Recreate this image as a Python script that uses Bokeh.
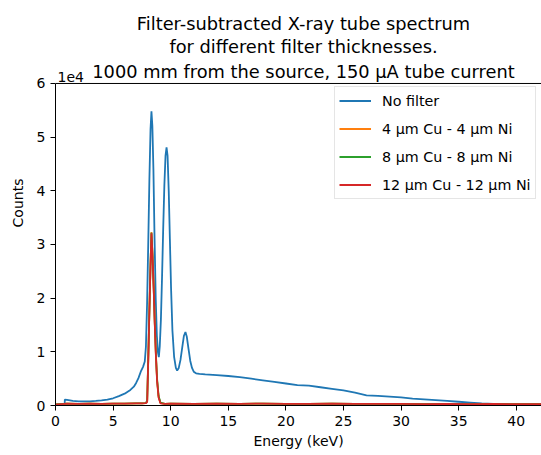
from bokeh.plotting import figure
from bokeh.models import (Range1d, FixedTicker, CustomJSTickFormatter, Label, Span,
                          Legend, LegendItem)
from bokeh.embed import file_html
from bokeh.resources import INLINE

# ---------------- data ----------------
energy_nofilter = [0.0, 0.79, 0.81, 1.0, 1.5, 2.0, 2.5, 3.0, 3.5, 4.0, 4.5, 5.0, 5.5, 6.0,
                   6.5, 6.8, 7.0, 7.2, 7.4, 7.6, 7.75, 7.85, 7.95, 8.05, 8.15, 8.25, 8.33,
                   8.41, 8.5, 8.6, 8.7, 8.8, 8.9, 8.97, 9.05, 9.15, 9.25, 9.35, 9.45, 9.55,
                   9.64, 9.73, 9.83, 9.93, 10.03, 10.15, 10.3, 10.45, 10.56, 10.7, 10.85,
                   11.0, 11.15, 11.28, 11.4, 11.55, 11.7, 11.85, 12.0, 12.2, 12.5, 13.0,
                   14.0, 15.0, 16.0, 17.0, 18.0, 19.0, 20.0, 21.0, 22.0, 23.0, 24.0, 25.0,
                   26.0, 27.0, 28.0, 29.0, 30.0, 31.0, 32.0, 33.0, 34.0, 35.0, 36.0, 37.0,
                   38.0, 39.0, 40.0, 40.5, 44.0]
counts_nofilter = [0, 0, 1100, 1050, 850, 780, 760, 780, 850, 950, 1100, 1350, 1750, 2200,
                   2900, 3500, 4200, 5100, 6300, 7200, 8200, 11000, 19000, 30000, 42000,
                   51500, 54800, 52000, 44000, 31000, 20000, 13000, 9800, 9000, 11000, 16000,
                   24000, 33000, 41000, 46500, 48100, 46500, 40000, 31000, 22000, 14000,
                   9000, 7000, 6500, 7000, 8500, 10800, 13000, 13700, 12800, 10500, 8300,
                   7000, 6300, 6000, 5900, 5800, 5650, 5500, 5300, 5000, 4700, 4400, 4100,
                   3800, 3700, 3400, 3100, 2800, 2400, 1900, 1800, 1650, 1500, 1300, 1150,
                   1000, 850, 700, 550, 400, 280, 150, 50, 0, 0]

energy_filtered = [0.0, 1.0, 2.0, 3.0, 4.0, 5.0, 6.0, 7.0, 7.5, 7.8, 7.9, 7.96, 8.05, 8.15,
                   8.25, 8.33, 8.42, 8.52, 8.62, 8.72, 8.82, 8.95, 9.11, 9.5, 10.0, 12.0,
                   14.0, 16.0, 18.0, 20.0, 22.0, 24.0, 26.0, 28.0, 30.0, 32.0, 34.0, 36.0,
                   38.0, 40.0, 42.0, 44.0]
counts_4um = [200, 350, 300, 350, 300, 350, 350, 400, 400, 450, 550, 800, 8500, 17800,
              26500, 32300, 28200, 22200, 15200, 9200, 4700, 1600, 450, 300, 350, 300,
              350, 300, 350, 300, 300, 350, 300, 300, 300, 250, 300, 250, 300, 250, 250, 250]
counts_8um = [200, 350, 300, 350, 300, 350, 350, 400, 400, 450, 650, 1000, 8600, 17600,
              26300, 32200, 28100, 22300, 15400, 9400, 4900, 1800, 550, 300, 350, 300,
              350, 300, 350, 300, 300, 350, 300, 300, 300, 250, 300, 250, 300, 250, 250, 250]
counts_12um = [150, 350, 300, 350, 300, 350, 350, 400, 400, 450, 500, 700, 8300, 17500,
               26200, 32100, 28000, 22000, 15000, 9000, 4500, 1500, 400, 300, 350, 300,
               350, 300, 350, 300, 300, 350, 300, 300, 300, 250, 300, 250, 300, 250, 250, 250]

labels = ["No filter", "4 μm Cu - 4 μm Ni", "8 μm Cu - 8 μm Ni", "12 μm Cu - 12 μm Ni"]
colors = ["#1f77b4", "#ff7f0e", "#2ca02c", "#d62728"]
x_ticks = [0, 5, 10, 15, 20, 25, 30, 35, 40]
y_ticks = [0, 10000, 20000, 30000, 40000, 50000, 60000]
title_lines = ["Filter-subtracted X-ray tube spectrum",
               "for different filter thicknesses.",
               "1000 mm from the source, 150 μA tube current"]

FONT = "DejaVu Sans"
Y_TOP = 60000

# frame spans the whole window height above the x axis; the y range is extended
# above 6e4 so that the title area lies inside the frame
p = figure(width=541, height=455, output_backend="svg", toolbar_location=None,
           x_range=Range1d(0, 42.19), y_range=Range1d(0, 75460),
           min_border_left=55, min_border_right=0, min_border_top=0,
           min_border_bottom=50)
p.outline_line_color = None
p.background_fill_color = "white"
p.border_fill_color = "white"
p.grid.visible = False

series = [(energy_nofilter, counts_nofilter), (energy_filtered, counts_4um),
          (energy_filtered, counts_8um), (energy_filtered, counts_12um)]
items = []
for (xs, ys), lab, col in zip(series, labels, colors):
    r = p.line(xs, ys, line_color=col, line_width=1.8)
    items.append(LegendItem(label=lab, renderers=[r]))

for ax in (p.xaxis[0], p.yaxis[0]):
    ax.axis_line_color = "black"
    ax.axis_line_width = 1
    ax.major_tick_line_color = "black"
    ax.major_tick_out = 5
    ax.major_tick_in = 0
    ax.minor_tick_out = 0
    ax.minor_tick_in = 0
    ax.major_label_text_font = FONT
    ax.major_label_text_font_size = "14px"
    ax.major_label_text_color = "black"
    ax.axis_label_text_font = FONT
    ax.axis_label_text_font_size = "14px"
    ax.axis_label_text_font_style = "normal"
    ax.axis_label_text_color = "black"

p.xaxis[0].ticker = FixedTicker(ticks=x_ticks)
p.yaxis[0].ticker = FixedTicker(ticks=y_ticks)
p.yaxis[0].bounds = (0, Y_TOP)
p.yaxis[0].formatter = CustomJSTickFormatter(code="return (tick/1e4).toFixed(0);")
p.xaxis[0].axis_label = "Energy (keV)"
p.yaxis[0].axis_label = "Counts"
p.xaxis[0].axis_label_standoff = 4
p.yaxis[0].axis_label_standoff = 8
p.yaxis[0].major_label_standoff = 5
p.xaxis[0].major_label_standoff = 5

# top spine
p.add_layout(Span(location=Y_TOP, dimension="width", line_color="black", line_width=1))

# offset text
p.add_layout(Label(x=2, y=329, x_units="screen", y_units="screen", text="1e4",
                   text_font=FONT, text_font_size="14px", text_color="black",
                   text_align="left", text_baseline="alphabetic"))

# title lines
for txt, yb in zip(title_lines, [382, 359.5, 334.5]):
    p.add_layout(Label(x=248, y=yb, x_units="screen", y_units="screen", text=txt,
                       text_font=FONT, text_font_size="17.8px", text_color="black",
                       text_align="center", text_baseline="alphabetic"))

legend = Legend(items=items, location=(279, 206), padding=4,
                spacing=9, label_height=19, glyph_height=19, glyph_width=32,
                label_standoff=11, label_text_font=FONT,
                label_text_font_size="14.3px", label_text_color="black",
                border_line_color="#cccccc", border_line_width=1,
                background_fill_color="white", background_fill_alpha=0.8)
p.add_layout(legend)

open("out.html", "w").write(file_html(p, INLINE))
